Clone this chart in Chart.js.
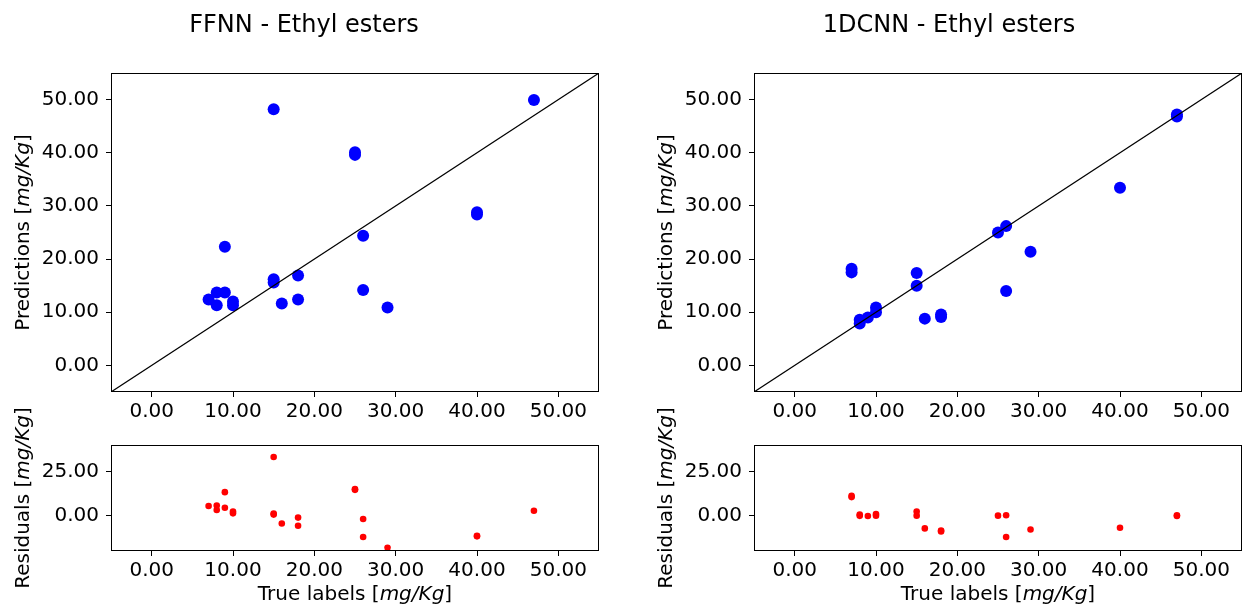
<!DOCTYPE html>
<html><head><meta charset="utf-8">
<script src="https://cdn.jsdelivr.net/npm/chart.js@4/dist/chart.umd.min.js"></script>
<style>
html,body{margin:0;padding:0;background:#fff;}
#wrap{position:relative;width:1248px;height:606px;overflow:hidden;}
#wrap canvas{position:absolute;left:0;top:0;}
</style></head><body><div id="wrap">
<canvas id="c1" width="1248" height="606"></canvas>
<canvas id="c2" width="1248" height="606"></canvas>
<canvas id="c3" width="1248" height="606"></canvas>
<canvas id="c4" width="1248" height="606"></canvas>
</div>
<script>
// ---- data ----
const ffnnTrue  = [15, 47, 25, 25, 40, 40, 26, 9, 15, 15, 18, 26, 8, 9, 7, 8, 10, 10, 16, 18, 29];
const ffnnPred  = [48.2, 49.9, 40.1, 39.6, 28.4, 28.8, 24.4, 22.3, 16.2, 15.6, 16.9, 14.2, 13.7, 13.7, 12.4, 11.3, 12.0, 11.3, 11.65, 12.4, 10.9];
const ffnnResid = [33.2, 2.8, 15.0, 14.6, -11.7, -11.4, -1.9, 13.3, 1.2, 0.6, -1.1, -12.1, 5.7, 4.5, 5.5, 3.2, 2.3, 1.3, -4.4, -5.7, -18.2];

const cnnTrue  = [47, 47, 40, 26, 25, 29, 7, 7, 15, 15, 26, 10, 10, 9, 8, 8, 16, 18, 18];
const cnnPred  = [47.2, 46.8, 33.4, 26.2, 25.0, 21.4, 18.2, 17.5, 17.4, 15.0, 14.0, 10.9, 10.0, 9.0, 8.6, 7.9, 8.8, 9.6, 9.1];
const cnnResid = [0.2, -0.2, -6.8, 0.2, 0.0, -7.8, 11.2, 10.5, 2.3, 0.0, -12.1, 0.9, 0.0, -0.2, 0.6, -0.1, -7.2, -8.4, -8.9];

const xTickValues = [0, 10, 20, 30, 40, 50];
const predTickValues = [0, 10, 20, 30, 40, 50];
const residTickValues = [0, 25];
const axisRange = [-5, 55];
const residRange = [-20, 40];
const identityLine = [-5, 55];

const titles = ['FFNN - Ethyl esters', '1DCNN - Ethyl esters'];
const predLabel = [['Predictions [', false], ['mg/Kg', true], [']', false]];
const residLabel = [['Residuals [', false], ['mg/Kg', true], [']', false]];
const trueLabel = [['True labels [', false], ['mg/Kg', true], [']', false]];

// ---- styling / layout ----
const FONT = "'DejaVu Sans', 'Liberation Sans', sans-serif";
Chart.defaults.font.family = FONT;
Chart.defaults.font.size = 20;
Chart.defaults.color = '#000';

function drawMixed(ctx, parts, cx, cy, rotate) {
  ctx.save();
  ctx.translate(cx, cy);
  if (rotate) ctx.rotate(-Math.PI / 2);
  ctx.textBaseline = 'middle';
  ctx.textAlign = 'left';
  ctx.fillStyle = '#000';
  let total = 0;
  const widths = parts.map(p => {
    ctx.font = (p[1] ? 'italic ' : '') + '20px ' + FONT;
    const w = ctx.measureText(p[0]).width; total += w; return w;
  });
  let x = -total / 2;
  parts.forEach((p, i) => {
    ctx.font = (p[1] ? 'italic ' : '') + '20px ' + FONT;
    ctx.fillText(p[0], x, 0);
    x += widths[i];
  });
  ctx.restore();
}

const deco = {
  id: 'deco',
  afterDraw(chart, args, o) {
    const ctx = chart.ctx, a = chart.chartArea;
    ctx.save();
    ctx.strokeStyle = '#000';
    ctx.lineWidth = 1;
    const l = Math.round(a.left) + 0.5, t = Math.round(a.top) + 0.5;
    const r = Math.round(a.right) - 0.5, b = Math.round(a.bottom) - 0.5;
    ctx.strokeRect(l, t, r - l, b - t);
    if (o.title) {
      ctx.font = '24px ' + FONT;
      ctx.fillStyle = '#000';
      ctx.textAlign = 'center';
      ctx.textBaseline = 'middle';
      ctx.fillText(o.title.text, o.title.x, o.title.y);
    }
    ctx.restore();
    if (o.ylabel) drawMixed(ctx, o.ylabel.parts, o.ylabel.x, (a.top + a.bottom) / 2, true);
    if (o.xlabel) drawMixed(ctx, o.xlabel.parts, (a.left + a.right) / 2, o.xlabel.y, false);
  }
};

function panel(id, area, xs, ys, kind, yRange, yTicks, decoOpts) {
  const yW = 80, xH = 40;
  const pts = xs.map((v, i) => ({ x: v, y: ys[i] }));
  const datasets = [];
  if (kind === 'pred') {
    datasets.push({
      type: 'line', data: identityLine.map(v => ({ x: v, y: v })),
      borderColor: '#000', borderWidth: 1.2, pointRadius: 0, fill: false, order: 0
    });
  }
  datasets.push({
    type: 'scatter', data: pts,
    backgroundColor: kind === 'pred' ? '#0000ff' : '#ff0000',
    borderWidth: 0, pointRadius: kind === 'pred' ? 6 : 3.3, order: 1
  });
  const axisCommon = {
    grid: { display: true, drawOnChartArea: false, drawTicks: true, tickLength: 5, color: '#000', tickColor: '#000' },
    border: { display: false }
  };
  return new Chart(document.getElementById(id), {
    data: { datasets },
    options: {
      responsive: false, animation: false, events: [],
      layout: { padding: { left: area.l - yW, right: 1248 - area.r, top: area.t, bottom: 606 - area.b - xH } },
      plugins: { legend: { display: false }, tooltip: { enabled: false }, deco: decoOpts },
      scales: {
        x: Object.assign({
          type: 'linear', min: axisRange[0], max: axisRange[1],
          afterBuildTicks: s => { s.ticks = xTickValues.map(v => ({ value: v })); },
          afterFit: s => { s.height = xH; },
          ticks: { padding: 3, maxRotation: 0, autoSkip: false, callback: v => v.toFixed(2) }
        }, axisCommon),
        y: Object.assign({
          type: 'linear', min: yRange[0], max: yRange[1],
          afterBuildTicks: s => { s.ticks = yTicks.map(v => ({ value: v })); },
          afterFit: s => { s.width = yW; },
          ticks: { padding: 7, autoSkip: false, callback: v => v.toFixed(2) }
        }, axisCommon)
      }
    },
    plugins: [deco]
  });
}

const L = { l: 111, r: 599 }, R = { l: 754, r: 1242 };
const TOP = { t: 73, b: 392 }, BOT = { t: 445, b: 551 };

panel('c1', { l: L.l, r: L.r, t: TOP.t, b: TOP.b }, ffnnTrue, ffnnPred, 'pred', axisRange, predTickValues,
  { title: { text: titles[0], x: 304, y: 26 }, ylabel: { parts: predLabel, x: 24 } });
panel('c2', { l: R.l, r: R.r, t: TOP.t, b: TOP.b }, cnnTrue, cnnPred, 'pred', axisRange, predTickValues,
  { title: { text: titles[1], x: 949, y: 26 }, ylabel: { parts: predLabel, x: 667 } });
panel('c3', { l: L.l, r: L.r, t: BOT.t, b: BOT.b }, ffnnTrue, ffnnResid, 'resid', residRange, residTickValues,
  { ylabel: { parts: residLabel, x: 24 }, xlabel: { parts: trueLabel, y: 595 } });
panel('c4', { l: R.l, r: R.r, t: BOT.t, b: BOT.b }, cnnTrue, cnnResid, 'resid', residRange, residTickValues,
  { ylabel: { parts: residLabel, x: 667 }, xlabel: { parts: trueLabel, y: 595 } });
</script>
</body></html>
